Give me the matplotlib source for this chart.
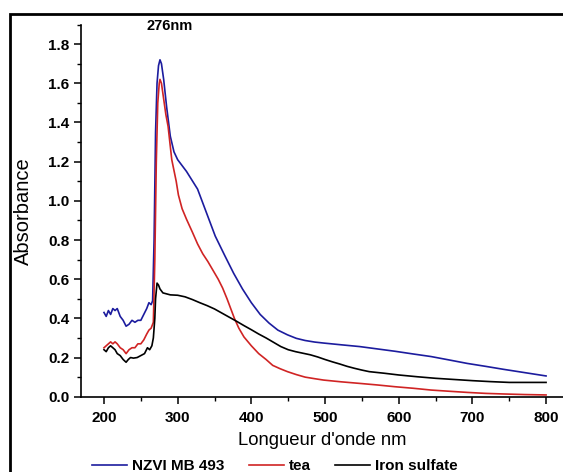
import matplotlib.pyplot as plt
from matplotlib.patches import Rectangle
from matplotlib.ticker import MultipleLocator

plt.rcParams["font.family"] = ["Liberation Sans", "DejaVu Sans"]

# wavelength (nm) / absorbance
nzvi_x = [200, 203, 206, 209, 212, 215, 218, 222, 226, 230, 234, 238, 242, 246, 250, 254,
          258, 261, 264, 266, 268, 270, 272, 274, 276, 278, 281, 285, 290, 295, 300, 312,
          327, 340, 351, 364, 376, 388, 400, 412, 424, 436, 449, 461, 473, 486, 498, 522,
          547, 571, 595, 620, 644, 668, 693, 718, 742, 771, 800]
nzvi_y = [0.43, 0.41, 0.44, 0.42, 0.45, 0.44, 0.45, 0.41, 0.39, 0.36, 0.37, 0.39, 0.38, 0.39, 0.39, 0.42,
          0.45, 0.48, 0.47, 0.49, 0.80, 1.35, 1.60, 1.69, 1.72, 1.70, 1.62, 1.48, 1.33, 1.25, 1.21, 1.15,
          1.06, 0.93, 0.82, 0.72, 0.63, 0.55, 0.48, 0.42, 0.376, 0.34, 0.316, 0.298, 0.287, 0.279, 0.274, 0.265,
          0.256, 0.244, 0.232, 0.218, 0.205, 0.188, 0.170, 0.155, 0.140, 0.123, 0.106]

tea_x = [200, 203, 206, 209, 212, 215, 218, 222, 226, 230, 234, 238, 242, 246, 250, 254,
         258, 261, 264, 267, 269, 271, 273, 275, 276, 278, 281, 284, 287, 292, 298, 301,
         306, 312, 320, 327, 334, 341, 348, 355, 361, 367, 372, 377, 383, 390, 400, 410,
         420, 429, 439, 449, 461, 473, 486, 498, 522, 547, 571, 595, 620, 644, 668, 693,
         718, 742, 771, 800]
tea_y = [0.25, 0.26, 0.27, 0.28, 0.27, 0.28, 0.27, 0.25, 0.24, 0.22, 0.24, 0.25, 0.25, 0.27, 0.27, 0.29,
         0.32, 0.34, 0.35, 0.38, 0.70, 1.20, 1.50, 1.60, 1.62, 1.60, 1.52, 1.44, 1.38, 1.21, 1.10, 1.03,
         0.96, 0.906, 0.84, 0.78, 0.73, 0.69, 0.645, 0.60, 0.555, 0.50, 0.45, 0.40, 0.35, 0.305, 0.26, 0.22,
         0.19, 0.16, 0.143, 0.128, 0.113, 0.100, 0.092, 0.085, 0.076, 0.068, 0.060, 0.051, 0.043, 0.034, 0.028, 0.022,
         0.017, 0.014, 0.011, 0.009]

iron_x = [200, 203, 206, 209, 212, 215, 218, 222, 226, 230, 233, 236, 240, 245, 250, 255,
          259, 262, 265, 267, 269, 270, 272, 274, 276, 280, 290, 300, 310, 320, 330, 340,
          350, 360, 370, 380, 390, 400, 410, 420, 430, 440, 450, 460, 470, 480, 490, 500,
          510, 520, 530, 540, 550, 560, 580, 600, 625, 650, 675, 700, 725, 750, 775, 800]
iron_y = [0.24, 0.23, 0.25, 0.26, 0.25, 0.24, 0.22, 0.21, 0.19, 0.176, 0.19, 0.20, 0.197, 0.20, 0.21, 0.22,
          0.25, 0.24, 0.26, 0.30, 0.40, 0.50, 0.58, 0.57, 0.55, 0.53, 0.52, 0.518, 0.51, 0.496, 0.48, 0.465,
          0.448, 0.427, 0.406, 0.385, 0.363, 0.342, 0.32, 0.30, 0.278, 0.256, 0.240, 0.230, 0.222, 0.214, 0.203, 0.19,
          0.178, 0.167, 0.155, 0.145, 0.136, 0.128, 0.120, 0.111, 0.102, 0.094, 0.088, 0.082, 0.077, 0.073, 0.073, 0.073]

fig = plt.figure(figsize=(5.63, 4.72), dpi=100)
ax = fig.add_axes([81 / 563, 0.1595, 482 / 563, 0.7885])

ax.plot(nzvi_x, nzvi_y, color="#1c1c9e", lw=1.2, label="NZVI MB 493")
ax.plot(tea_x, tea_y, color="#d02424", lw=1.2, label="tea")
ax.plot(iron_x, iron_y, color="black", lw=1.2, label="Iron sulfate")

ax.set_xlim(168.8, 823)
ax.set_ylim(0, 1.9)
ax.xaxis.set_major_locator(MultipleLocator(100))
ax.xaxis.set_minor_locator(MultipleLocator(50))
ax.yaxis.set_major_locator(MultipleLocator(0.2))
ax.yaxis.set_minor_locator(MultipleLocator(0.1))
ax.set_xticks([200, 300, 400, 500, 600, 700, 800])
ax.spines["top"].set_visible(False)
ax.spines["right"].set_visible(False)
ax.spines["left"].set_linewidth(1.2)
ax.spines["bottom"].set_linewidth(1.2)
ax.tick_params(which="major", length=5, width=1.1, labelsize=11)
ax.tick_params(axis="x", which="major", pad=5.5)
ax.tick_params(axis="y", which="major", pad=3.5)
ax.tick_params(which="minor", length=3, width=1.0)
for lab in ax.get_xticklabels() + ax.get_yticklabels():
    lab.set_fontweight("bold")
ax.yaxis.set_major_formatter(plt.FormatStrFormatter("%.1f"))

ax.set_xlabel("Longueur d'onde nm", fontsize=13.3, labelpad=5)
ax.set_ylabel("Absorbance", fontsize=14.5, labelpad=11)
ax.text(289, 1.893, "276nm", fontsize=10.5, fontweight="bold", ha="center", va="center", clip_on=False)

fig.legend(loc="center", bbox_to_anchor=(0.488, 0.012), ncol=3, frameon=False,
           prop={"weight": "bold", "size": 11}, handlelength=2.3, columnspacing=1.6,
           handletextpad=0.3)

fig.patches.append(Rectangle((9.5 / 563, -0.1), 1.2, 1.1 - 13.5 / 472, transform=fig.transFigure,
                             fill=False, lw=2, edgecolor="black"))

plt.savefig("out.png", dpi=100)
